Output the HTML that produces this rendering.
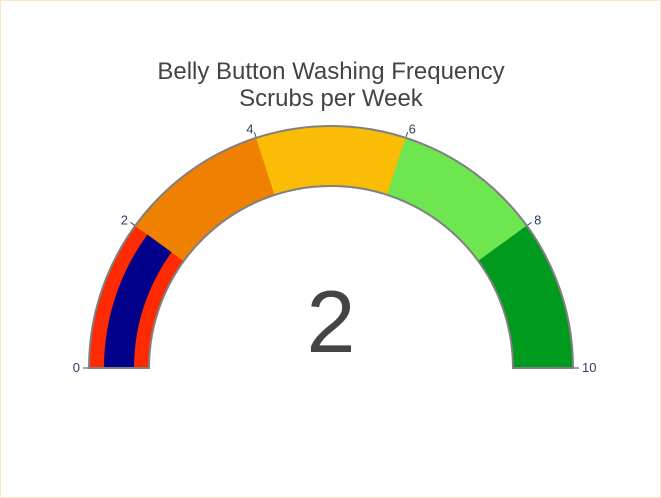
<!DOCTYPE html>
<html><head><meta charset="utf-8"><style>
html,body{margin:0;padding:0;background:#fff}
#wrap{width:659px;height:496px;border:1px solid #fbe5c4;position:relative;overflow:hidden}
svg{position:absolute;left:-1px;top:-1px}
</style></head><body>
<div id="wrap">
<svg id="g" width="661" height="498"></svg>
</div>
<script>
const stepRanges = [[0,2],[2,4],[4,6],[6,8],[8,10]];
const stepColors = ["#ff2a00","#f08000","#fbbc05","#6de650","#009a1f"];
const tickValues = [0,2,4,6,8,10];
const gaugeValue = [2];
const axisRange = [0,10];

const NS="http://www.w3.org/2000/svg";
const svg=document.getElementById('g');
const cx=331, cy=368, R=242, r=182, bR=227, br=197;
function ang(v){return Math.PI*(1-(v-axisRange[0])/(axisRange[1]-axisRange[0]));}
function pt(v,rad){const a=ang(v);return [cx+rad*Math.cos(a), cy-rad*Math.sin(a)];}
function arc(v0,v1,ro,ri){
  const a=pt(v0,ro),b=pt(v1,ro),c=pt(v1,ri),d=pt(v0,ri);
  return `M${a[0]},${a[1]} A${ro},${ro} 0 0 1 ${b[0]},${b[1]} L${c[0]},${c[1]} A${ri},${ri} 0 0 0 ${d[0]},${d[1]} Z`;
}
function mk(tag,attrs){const e=document.createElementNS(NS,tag);for(const k in attrs)e.setAttribute(k,attrs[k]);svg.appendChild(e);return e;}

stepRanges.forEach((s,i)=>{
  const p=mk('path',{d:arc(s[0],s[1],R,r),fill:stepColors[i],stroke:stepColors[i],'stroke-width':0.5});
  
  
});
const bar=mk('path',{d:arc(axisRange[0],gaugeValue[0],bR,br),fill:'#00008b'});


const outline=mk('path',{d:arc(axisRange[0],axisRange[1],R,r),fill:'none',stroke:'#808080','stroke-width':2});



tickValues.forEach(v=>{
  const a=pt(v,R+1),b=pt(v,R+6);
  const t=mk('line',{x1:a[0],y1:a[1],x2:b[0],y2:b[1],stroke:'#444','stroke-width':1});
  
  
  const l=pt(v,R+9);
  const an=ang(v);
  const anchor=Math.cos(an)>0.3?'start':(Math.cos(an)<-0.3?'end':'middle');
  const tx=mk('text',{x:l[0],y:l[1]+4,'text-anchor':anchor,'font-family':'Liberation Sans, sans-serif','font-size':13,fill:'#2a3f5f'});
  tx.textContent=v;
  
  
});

const t1=mk('text',{x:331,y:79,'text-anchor':'middle','font-family':'Liberation Sans, sans-serif','font-size':24,fill:'#444'});
t1.textContent='Belly Button Washing Frequency';


const t2=mk('text',{x:331,y:106,'text-anchor':'middle','font-family':'Liberation Sans, sans-serif','font-size':24,fill:'#444'});
t2.textContent='Scrubs per Week';


const num=mk('text',{x:331,y:352,'text-anchor':'middle','font-family':'Liberation Sans, sans-serif','font-size':88,fill:'#444'});
num.textContent=gaugeValue[0];


</script>
</body></html>
